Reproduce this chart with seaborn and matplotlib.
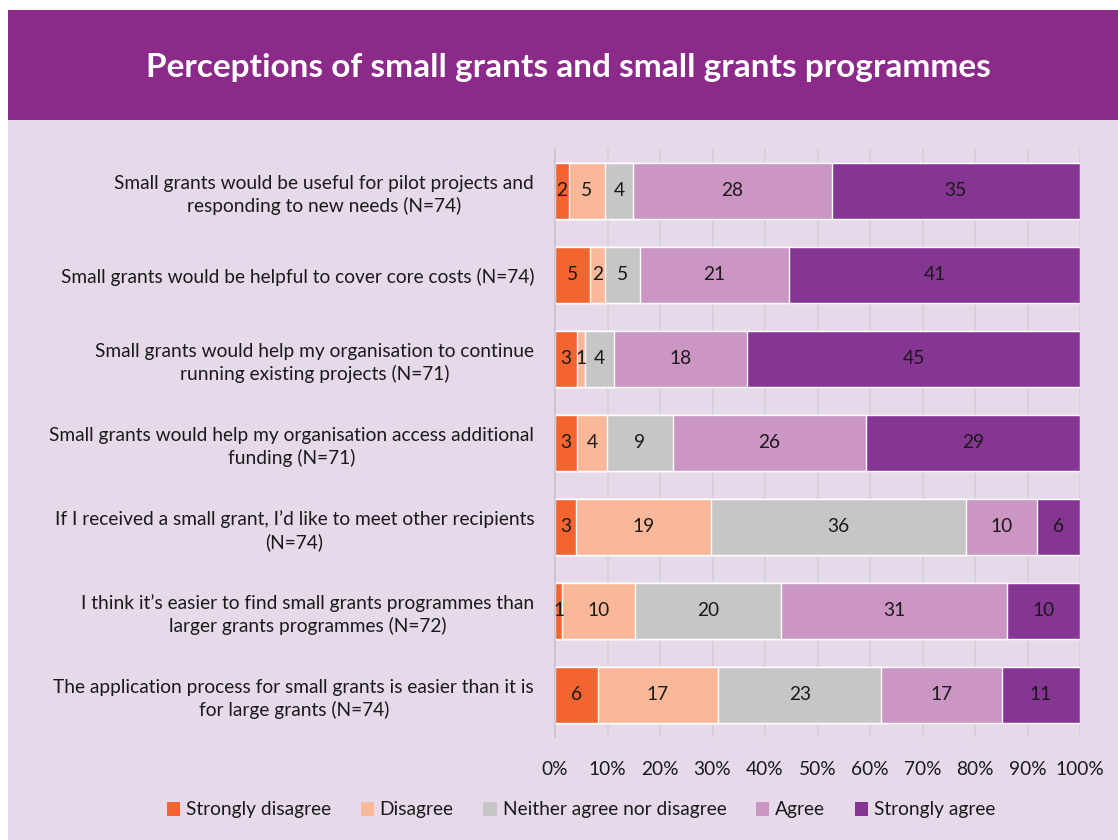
import matplotlib
matplotlib.use("Agg")
import matplotlib.pyplot as plt
import seaborn as sns
import numpy as np
import pandas as pd
from matplotlib.patches import Rectangle, Patch
from matplotlib.ticker import PercentFormatter

categories = [
    "Small grants would be useful for pilot projects and\nresponding to new needs (N=74)",
    "Small grants would be helpful to cover core costs (N=74)",
    "Small grants would help my organisation to continue\nrunning existing projects (N=71)",
    "Small grants would help my organisation access additional\nfunding (N=71)",
    "If I received a small grant, I\u2019d like to meet other recipients\n(N=74)",
    "I think it\u2019s easier to find small grants programmes than\nlarger grants programmes (N=72)",
    "The application process for small grants is easier than it is\nfor large grants (N=74)",
]
series_names = ["Strongly disagree", "Disagree", "Neither agree nor disagree", "Agree", "Strongly agree"]
strongly_disagree = [2, 5, 3, 3, 3, 1, 6]
disagree = [5, 2, 1, 4, 19, 10, 17]
neither = [4, 5, 4, 9, 36, 20, 23]
agree = [28, 21, 18, 26, 10, 31, 17]
strongly_agree = [35, 41, 45, 29, 6, 10, 11]
colors = ["#F26430", "#F9B89A", "#C6C6C6", "#CB95C4", "#853592"]

sns.set_theme(style="white")
plt.rcParams["font.family"] = ["Lato", "DejaVu Sans"]

FS = 13.8

counts = np.array([strongly_disagree, disagree, neither, agree, strongly_agree], dtype=float)
totals = counts.sum(axis=0)
pct = counts / totals * 100
cum = np.cumsum(pct, axis=0)

fig = plt.figure(figsize=(11.18, 8.4), dpi=100)
fig.patch.set_facecolor("white")
fig.patches.append(Rectangle((8/1118, 0), 1 - 8/1118, 1 - 120/840, transform=fig.transFigure,
                             facecolor="#E6D9EA", edgecolor="none", zorder=-2))
fig.patches.append(Rectangle((8/1118, 1 - 120/840), 1 - 8/1118, 110/840, transform=fig.transFigure,
                             facecolor="#8B2A89", edgecolor="none", zorder=-1))
fig.text(568/1118, 1 - 67/840, "Perceptions of small grants and small grants programmes",
         ha="center", va="center", color="white", fontsize=24, fontweight="bold")

ax = fig.add_axes([555/1118, 1 - 737/840, 525/1118, 588/840])
ax.set_facecolor("none")

for i in range(4, -1, -1):
    df = pd.DataFrame({"cat": categories, "val": cum[i]})
    sns.barplot(data=df, x="val", y="cat", orient="h", color=colors[i], width=0.67,
                saturation=1, ax=ax, zorder=2)

for i in range(5):
    for j in range(len(categories)):
        mid = cum[i][j] - pct[i][j] / 2
        ax.text(mid, j, f"{int(counts[i][j])}", ha="center", va="center",
                fontsize=FS, color="#1a1a1a", zorder=3)

ax.set_xlim(0, 100)
ax.set_ylim(6.5, -0.5)
ax.set_xticks(np.arange(0, 101, 10))
ax.xaxis.set_major_formatter(PercentFormatter(decimals=0))
ax.xaxis.grid(True, color="#D3D0D6", linewidth=1.2, zorder=0)
ax.set_axisbelow(True)
ax.set_xlabel("")
ax.set_ylabel("")
for s in ["top", "right", "bottom"]:
    ax.spines[s].set_visible(False)
ax.spines["left"].set_color("#C8C3CC")
ax.spines["left"].set_linewidth(1.2)
ax.tick_params(axis="x", length=0, pad=17, labelsize=FS, labelcolor="#1a1a1a")
ax.tick_params(axis="y", length=0, pad=15, labelsize=FS, labelcolor="#1a1a1a")
for t in ax.get_yticklabels():
    t.set_multialignment("center")
    t.set_linespacing(1.3)

handles = [Patch(facecolor=c, edgecolor="none") for c in colors]
fig.legend(handles, series_names, loc="center", bbox_to_anchor=(581/1118, 1 - 810/840),
           ncol=5, frameon=False, fontsize=FS, handlelength=0.7, handleheight=0.8,
           handletextpad=0.3, columnspacing=1.55, labelcolor="#1a1a1a")

fig.savefig("out.png", dpi=100)
